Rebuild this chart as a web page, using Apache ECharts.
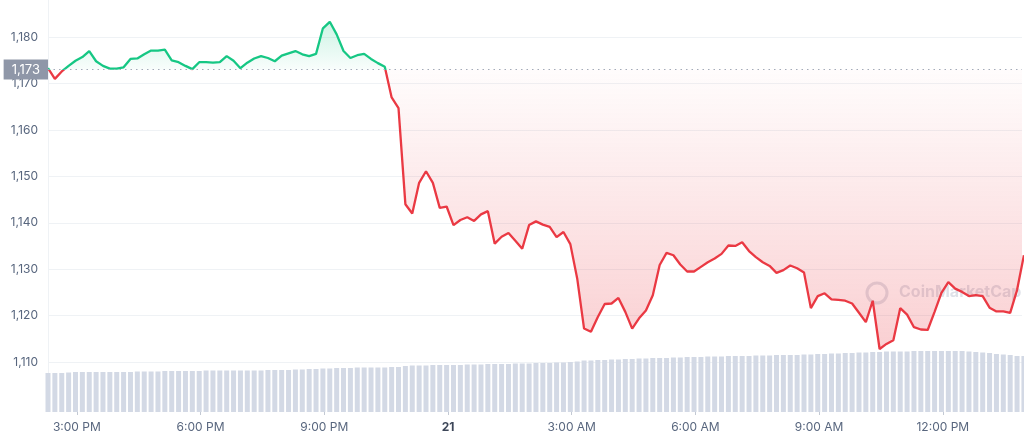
<!DOCTYPE html>
<html>
<head>
<meta charset="utf-8">
<title>Price chart</title>
<script src="https://cdn.jsdelivr.net/npm/echarts@6.0.0/dist/echarts.min.js"></script>
<style>
  html, body { margin: 0; padding: 0; background: #fff; }
  #chart { width: 1024px; height: 441px; }
</style>
</head>
<body>
<div id="chart"></div>
<script>
// first point at 14:18 on the 20th (hours from midnight), one point every 10 minutes
var startHour = 14.3;
var stepHour = 1 / 6;
var basePrice = 1173;

var prices = [
  1173.3, 1171.0, 1172.6, 1173.8, 1174.9, 1175.7, 1177.0, 1174.8, 1173.8, 1173.2,
  1173.2, 1173.5, 1175.3, 1175.4, 1176.3, 1177.1, 1177.1, 1177.3, 1175.0, 1174.6,
  1173.8, 1173.1, 1174.6, 1174.6, 1174.5, 1174.6, 1175.9, 1174.9, 1173.3, 1174.5,
  1175.4, 1175.9, 1175.5, 1174.8, 1176.0, 1176.5, 1177.0, 1176.3, 1175.9, 1176.4,
  1181.9, 1183.3, 1180.6, 1177.0, 1175.5, 1176.1, 1176.4, 1175.3, 1174.4, 1173.6,
  1167.0, 1164.7, 1144.0, 1142.0, 1148.6, 1151.1, 1148.6, 1143.2, 1143.5, 1139.5,
  1140.6, 1141.2, 1140.4, 1141.8, 1142.5, 1135.5, 1137.0, 1137.8, 1136.1, 1134.4,
  1139.5, 1140.3, 1139.6, 1139.1, 1136.9, 1138.0, 1135.4, 1128.0, 1117.2, 1116.5,
  1119.7, 1122.5, 1122.6, 1123.8, 1120.8, 1117.2, 1119.4, 1121.1, 1124.4, 1130.9,
  1133.5, 1133.0, 1131.0, 1129.5, 1129.5, 1130.5, 1131.5, 1132.3, 1133.3, 1135.1,
  1135.0, 1135.8, 1133.9, 1132.6, 1131.5, 1130.7, 1129.2, 1129.8, 1130.8, 1130.2,
  1129.3, 1121.6, 1124.2, 1124.8, 1123.5, 1123.4, 1123.2, 1122.6, 1120.6, 1118.6,
  1123.2, 1112.8, 1113.9, 1114.7, 1121.6, 1120.2, 1117.5, 1117.0, 1116.9, 1120.8,
  1124.9, 1127.2, 1125.8, 1125.1, 1124.2, 1124.4, 1124.2, 1121.7, 1120.9, 1120.9,
  1120.6, 1125.5, 1133.0
];

var volumes = [
  39, 39, 39, 39.5, 40, 40, 40, 40, 40, 40,
  40, 40, 40, 40.5, 40.5, 40.5, 40.5, 41, 41, 41,
  41, 41, 41, 41.5, 41.5, 41.5, 41.5, 41.5, 41.5, 41.5,
  41.5, 41.5, 42, 42, 42, 42, 42.5, 42.5, 43, 43,
  43.5, 43.5, 44, 44, 44, 44.5, 44.5, 44.5, 44.5, 44.5,
  45, 45, 46, 46.5, 46.5, 46.5, 47, 47, 47, 47,
  47, 47.5, 47.5, 47.5, 48, 48, 48, 48, 48.5, 48.5,
  48.5, 49, 49, 49, 49.5, 49.5, 50, 50.5, 51.5, 51.5,
  52, 52, 52.5, 52.5, 53, 53, 53.5, 53.5, 54, 54,
  54, 54.5, 54.5, 55, 55, 55, 55.5, 55.5, 55.5, 56,
  56, 56, 56, 56.5, 56.5, 56.5, 57, 57, 57, 57,
  57.5, 57.5, 58, 58, 58.5, 58.5, 59, 59, 59.5, 59.5,
  60, 60, 60.5, 60.5, 60.5, 60.5, 61, 61, 61, 61,
  61, 61, 61, 61, 60.5, 60, 59.5, 59, 58, 57.5,
  57, 56, 56
];

var xTickHours = [15, 18, 21, 24, 27, 30, 33, 36];
var xTickLabels = ['3:00 PM', '6:00 PM', '9:00 PM', '21', '3:00 AM', '6:00 AM', '9:00 AM', '12:00 PM'];

var green = '#16c784';
var red = '#ea3943';
var textGray = '#58667e';

var chart = echarts.init(document.getElementById('chart'));

var times = prices.map(function (p, i) { return startHour + i * stepHour; });
var priceData = prices.map(function (p, i) { return [times[i], p]; });
// area above / below the opening price, filled toward the dotted line
var aboveData = prices.map(function (p, i) { return [times[i], Math.max(p, basePrice)]; });
var belowData = prices.map(function (p, i) { return [times[i], Math.min(p, basePrice)]; });
var volData = volumes.map(function (v, i) { return [times[i], v]; });

var xMin = 14.3, xMax = 37.92;

var option = {
  animation: false,
  textStyle: { fontFamily: 'Inter, sans-serif' },
  grid: [
    { left: 48, right: 2, top: 0, bottom: 32.6 },
    { left: 48, right: 2, top: 300, bottom: 29 }
  ],
  xAxis: [
    {
      type: 'value', gridIndex: 0, min: xMin, max: xMax,
      show: false
    },
    {
      type: 'value', gridIndex: 1, min: xMin, max: xMax,
      axisLine: { show: false },
      splitLine: { show: false },
      axisTick: {
        show: true, customValues: xTickHours, length: 3,
        lineStyle: { color: '#c3c9d3' }
      },
      axisLabel: {
        customValues: xTickHours,
        margin: 9,
        color: textGray,
        fontSize: 12,
        formatter: function (v) {
          var idx = xTickHours.indexOf(v);
          var s = idx >= 0 ? xTickLabels[idx] : '';
          return v === 24 ? '{b|' + s + '}' : s;
        },
        rich: { b: { fontWeight: 'bold', color: '#3d4759', fontSize: 12 } }
      }
    }
  ],
  yAxis: [
    {
      // top of the plot sits at ~1,188
      type: 'value', gridIndex: 0, min: 1100, max: 1188, interval: 10,
      axisLine: { show: true, lineStyle: { color: '#eff2f5' } },
      axisTick: { show: false },
      splitLine: { showMinLine: false, showMaxLine: false, lineStyle: { color: '#eff2f5' } },
      axisLabel: {
        color: textGray, fontSize: 12, margin: 10,
        showMinLabel: false,
        formatter: function (v) {
          if (v <= 1100 || v % 10 !== 0) return '';
          return echarts.format.addCommas(v);
        }
      }
    },
    {
      type: 'value', gridIndex: 1, min: 0, max: 112, show: false
    }
  ],
  series: [
    {
      name: 'Volume', type: 'bar', xAxisIndex: 1, yAxisIndex: 1,
      data: volData, barWidth: 5, silent: true,
      itemStyle: { color: '#d3d9e5' }
    },
    {
      name: 'above', type: 'line', xAxisIndex: 0, yAxisIndex: 0,
      data: aboveData, showSymbol: false, silent: true,
      lineStyle: { width: 0, opacity: 0 },
      areaStyle: {
        origin: basePrice,
        color: new echarts.graphic.LinearGradient(0, 0, 0, 1, [
          { offset: 0, color: 'rgba(22,199,132,0.3)' },
          { offset: 1, color: 'rgba(22,199,132,0.04)' }
        ])
      }
    },
    {
      name: 'below', type: 'line', xAxisIndex: 0, yAxisIndex: 0,
      data: belowData, showSymbol: false, silent: true,
      lineStyle: { width: 0, opacity: 0 },
      areaStyle: {
        origin: basePrice,
        color: new echarts.graphic.LinearGradient(0, 0, 0, 1, [
          { offset: 0, color: 'rgba(234,57,67,0.02)' },
          { offset: 1, color: 'rgba(234,57,67,0.34)' }
        ])
      }
    },
    {
      name: 'Price', type: 'line', xAxisIndex: 0, yAxisIndex: 0,
      data: priceData, showSymbol: false, z: 4,
      lineStyle: { width: 2.3, color: green },
      markLine: {
        silent: true,
        symbol: 'none',
        lineStyle: { color: '#a3abb9', type: [1.5, 4], width: 1 },
        label: {
          position: 'start',
          distance: 0,
          formatter: '1,173',
          color: '#fff',
          fontSize: 13,
          backgroundColor: '#8f97a8',
          padding: [4, 8, 3, 8]
        },
        data: [{ yAxis: basePrice }]
      }
    }
  ],
  graphic: [
    {
      type: 'circle', silent: true, z: 3,
      shape: { cx: 877, cy: 293, r: 10 },
      style: { fill: 'none', stroke: 'rgba(160,170,188,0.35)', lineWidth: 3 }
    },
    {
      type: 'text', silent: true, z: 3, left: 899, top: 284,
      style: { text: 'CoinMarketCap', fill: 'rgba(160,170,188,0.35)', font: 'bold 16px Inter' }
    }
  ]
};

chart.setOption(option);

// green above the opening price, red below: split the stroke at the baseline pixel
var baseY = chart.convertToPixel({ yAxisIndex: 0 }, basePrice);
var cut = baseY / 441;
chart.setOption({
  series: [{}, {}, {}, {
    lineStyle: {
      color: new echarts.graphic.LinearGradient(0, 0, 0, 441, [
        { offset: 0, color: green },
        { offset: cut, color: green },
        { offset: cut, color: red },
        { offset: 1, color: red }
      ], true)
    }
  }]
});
</script>
</body>
</html>
